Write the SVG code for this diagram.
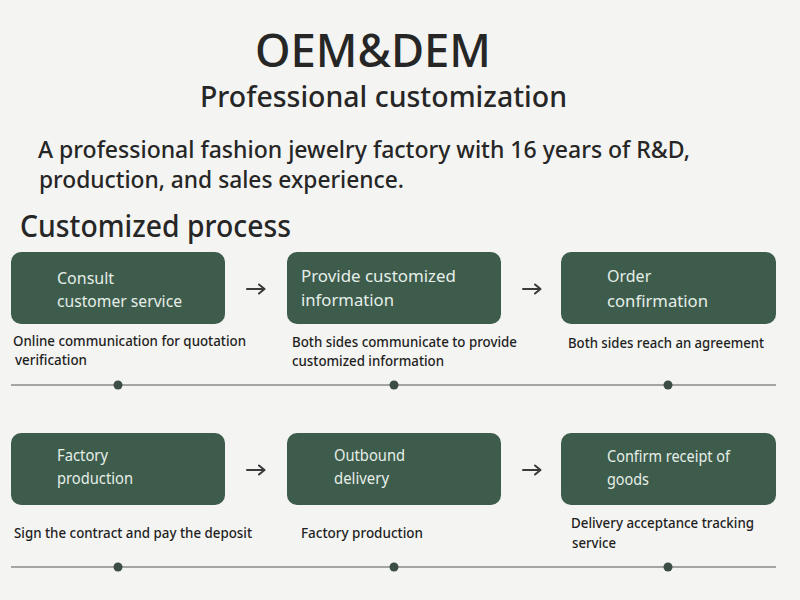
<svg xmlns="http://www.w3.org/2000/svg" width="800" height="600" viewBox="0 0 800 600">
<style>
text{font-family:"Noto Sans","Open Sans","Liberation Sans",sans-serif}
.h{fill:#262626;font-weight:500}
.box{fill:#3d5c4c}
.bt{fill:#e6eee8;font-size:16px}
.d{fill:#1e1e1e;font-size:14.5px;font-weight:500}
.ar{fill:none;stroke:#3a3a3a;stroke-width:2;stroke-linecap:round;stroke-linejoin:round}
.tl{stroke:#8a8a8a;stroke-width:1.5}
.dot{fill:#3b4d45}
</style>
<defs>
<path id="arrow" class="ar" d="M0 0H17M12 -4.5L17.5 0L12 4.5"/>
</defs>
<rect width="800" height="600" fill="#f4f4f2"/>
<g id="header">
<text class="h" x="255" y="67" font-size="46" textLength="236" lengthAdjust="spacingAndGlyphs">OEM&amp;DEM</text>
<text class="h" x="200" y="107" font-size="29" textLength="367" lengthAdjust="spacingAndGlyphs">Professional customization</text>
<text class="h" x="38" y="158" font-size="24" textLength="652" lengthAdjust="spacingAndGlyphs">A professional fashion jewelry factory with 16 years of R&amp;D,</text>
<text class="h" x="39" y="188" font-size="24" textLength="365" lengthAdjust="spacingAndGlyphs">production, and sales experience.</text>
<text class="h" x="20" y="237" font-size="30" textLength="271" lengthAdjust="spacingAndGlyphs">Customized process</text>
</g>
<g id="connectors">
<use href="#arrow" x="247" y="289"/>
<use href="#arrow" x="523" y="289"/>
<use href="#arrow" x="247" y="470"/>
<use href="#arrow" x="523" y="470"/>
<line class="tl" x1="11" y1="385" x2="776" y2="385"/>
<circle class="dot" cx="118" cy="385" r="4.5"/>
<circle class="dot" cx="394" cy="385" r="4.5"/>
<circle class="dot" cx="668" cy="385" r="4.5"/>
<line class="tl" x1="11" y1="567" x2="776" y2="567"/>
<circle class="dot" cx="118" cy="567" r="4.5"/>
<circle class="dot" cx="394" cy="567" r="4.5"/>
<circle class="dot" cx="668" cy="567" r="4.5"/>
</g>
<g id="n1">
<rect class="box" x="11" y="252" width="214" height="72" rx="10"/>
<text class="bt" x="57" y="284">Consult</text>
<text class="bt" x="57" y="307" textLength="125" lengthAdjust="spacingAndGlyphs">customer service</text>
<text class="d" x="13" y="346" textLength="233" lengthAdjust="spacingAndGlyphs">Online communication for quotation</text>
<text class="d" x="15" y="365" textLength="72" lengthAdjust="spacingAndGlyphs">verification</text>
</g>
<g id="n2">
<rect class="box" x="287" y="252" width="214" height="72" rx="10"/>
<text class="bt" x="301" y="282" textLength="155" lengthAdjust="spacingAndGlyphs">Provide customized</text>
<text class="bt" x="301" y="306" textLength="93" lengthAdjust="spacingAndGlyphs">information</text>
<text class="d" x="292" y="347" textLength="225" lengthAdjust="spacingAndGlyphs">Both sides communicate to provide</text>
<text class="d" x="292" y="366" textLength="152" lengthAdjust="spacingAndGlyphs">customized information</text>
</g>
<g id="n3">
<rect class="box" x="561" y="252" width="215" height="72" rx="10"/>
<text class="bt" x="607" y="282">Order</text>
<text class="bt" x="607" y="307" textLength="101" lengthAdjust="spacingAndGlyphs">confirmation</text>
<text class="d" x="568" y="348" textLength="196" lengthAdjust="spacingAndGlyphs">Both sides reach an agreement</text>
</g>
<g id="n4">
<rect class="box" x="11" y="433" width="214" height="72" rx="10"/>
<text class="bt" x="57" y="461" textLength="51" lengthAdjust="spacingAndGlyphs">Factory</text>
<text class="bt" x="57" y="484" textLength="76" lengthAdjust="spacingAndGlyphs">production</text>
<text class="d" x="14" y="538" textLength="238" lengthAdjust="spacingAndGlyphs">Sign the contract and pay the deposit</text>
</g>
<g id="n5">
<rect class="box" x="287" y="433" width="214" height="72" rx="10"/>
<text class="bt" x="334" y="461" textLength="71" lengthAdjust="spacingAndGlyphs">Outbound</text>
<text class="bt" x="334" y="484" textLength="55" lengthAdjust="spacingAndGlyphs">delivery</text>
<text class="d" x="301" y="538" textLength="122" lengthAdjust="spacingAndGlyphs">Factory production</text>
</g>
<g id="n6">
<rect class="box" x="561" y="433" width="215" height="72" rx="10"/>
<text class="bt" x="607" y="462" textLength="123" lengthAdjust="spacingAndGlyphs">Confirm receipt of</text>
<text class="bt" x="607" y="485" textLength="42" lengthAdjust="spacingAndGlyphs">goods</text>
<text class="d" x="571" y="528" textLength="183" lengthAdjust="spacingAndGlyphs">Delivery acceptance tracking</text>
<text class="d" x="572" y="548" textLength="44" lengthAdjust="spacingAndGlyphs">service</text>
</g>
</svg>
